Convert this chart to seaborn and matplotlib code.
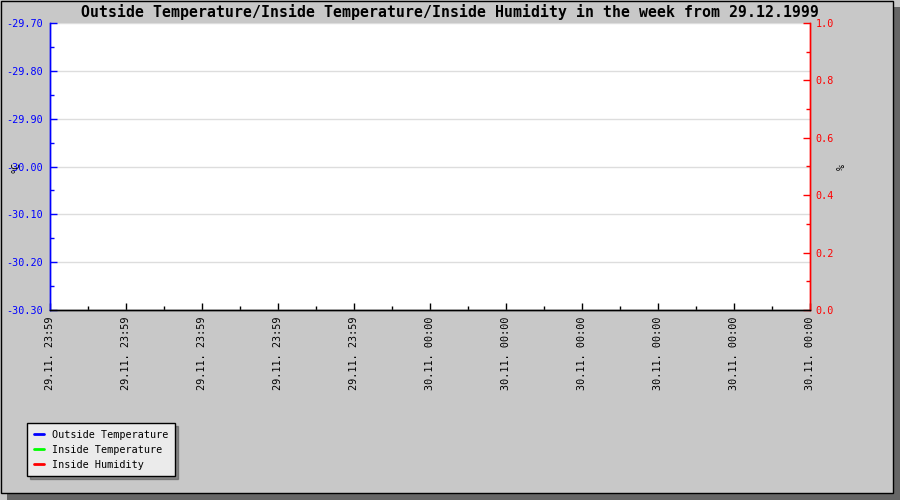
import matplotlib
matplotlib.use("Agg")
import matplotlib.pyplot as plt
import matplotlib.patches as mpatches
import matplotlib.ticker as mticker
import seaborn as sns

sns.set_style("white")
plt.rcParams['font.family'] = ['DejaVu Sans Mono', 'DejaVu Sans']
plt.rcParams['axes.unicode_minus'] = False
plt.rcParams['text.color'] = 'black'

# x categories (time stamps shown on the axis)
time_labels = ["29.11. 23:59"] * 5 + ["30.11. 00:00"] * 6
# the week has no readings, so every series is empty
outside_temp = []
inside_temp = []
inside_humidity = []
temp_ticks = [-30.30, -30.20, -30.10, -30.00, -29.90, -29.80, -29.70]
hum_ticks = [0.0, 0.2, 0.4, 0.6, 0.8, 1.0]

fig = plt.figure(figsize=(9, 5), dpi=100, facecolor="#c8c8c8")

# frame and drop shadow, kept behind the axes
fig.patches.append(mpatches.Rectangle((7 / 900, 0), 893 / 900, 7 / 500, transform=fig.transFigure,
                                      facecolor="#666666", edgecolor="none", zorder=-10))
fig.patches.append(mpatches.Rectangle((893 / 900, 0), 7 / 900, 493 / 500, transform=fig.transFigure,
                                      facecolor="#666666", edgecolor="none", zorder=-10))
fig.patches.append(mpatches.Rectangle((0.5 / 900, 7.5 / 500), 892 / 900, 492 / 500, transform=fig.transFigure,
                                      facecolor="#c8c8c8", edgecolor="black", linewidth=1, zorder=-9))

ax = fig.add_axes([50 / 900, 1 - 310 / 500, 760 / 900, 287 / 500])
ax.set_facecolor("white")

ax.plot(range(len(outside_temp)), outside_temp, color="blue", label="Outside Temperature")
ax.plot(range(len(inside_temp)), inside_temp, color="#00ff00", label="Inside Temperature")
ax2 = ax.twinx()
ax2.plot(range(len(inside_humidity)), inside_humidity, color="red", label="Inside Humidity")

ax.set_xlim(0, len(time_labels) - 1)
ax.set_xticks(range(len(time_labels)))
ax.set_xticklabels(time_labels, rotation=90, fontsize=7.3, va="top", color="black")
ax.xaxis.set_minor_locator(mticker.MultipleLocator(0.5))

ax.set_ylim(temp_ticks[0], temp_ticks[-1])
ax.set_yticks(temp_ticks)
ax.set_yticklabels(["%.2f" % t for t in temp_ticks], color="blue", fontsize=7.3)
ax.yaxis.set_minor_locator(mticker.MultipleLocator(0.05))
ax.grid(axis="y", color="#dddddd", linewidth=1)
ax.set_axisbelow(True)

ax2.set_ylim(0, 1)
ax2.set_yticks(hum_ticks)
ax2.set_yticklabels(["%.1f" % t for t in hum_ticks], color="red", fontsize=7.3)
ax2.yaxis.set_minor_locator(mticker.MultipleLocator(0.1))

ax.tick_params(axis="x", which="both", bottom=True, top=False)
ax.tick_params(axis="x", which="major", direction="in", length=5, width=1, pad=5, color="black")
ax.tick_params(axis="x", which="minor", direction="in", length=3, width=1, color="black")
ax.tick_params(axis="y", which="both", left=True, right=False)
ax.tick_params(axis="y", which="major", direction="in", length=5, width=1, pad=5, color="blue")
ax.tick_params(axis="y", which="minor", direction="in", length=3, width=1, color="blue")
ax2.tick_params(axis="y", which="both", right=True, left=False)
ax2.tick_params(axis="y", which="major", direction="in", length=5, width=1, pad=4, color="red")
ax2.tick_params(axis="y", which="minor", direction="in", length=3, width=1, color="red")

for a in (ax, ax2):
    a.spines["top"].set_visible(False)
    a.spines["bottom"].set_color("black")
    a.spines["left"].set_color("blue")
    a.spines["right"].set_color("red")
    for s in a.spines.values():
        s.set_linewidth(1)

fig.text(15 / 900, 1 - 167 / 500, "°C", rotation=90, ha="center", va="center", fontsize=7.3)
fig.text(842 / 900, 1 - 167 / 500, "%", rotation=90, ha="center", va="center", fontsize=7.3)

fig.text(450 / 900, 1 - 12 / 500,
         "Outside Temperature/Inside Temperature/Inside Humidity in the week from 29.12.1999",
         ha="center", va="center", fontsize=10.7, fontweight="bold")

h1, l1 = ax.get_legend_handles_labels()
h2, l2 = ax2.get_legend_handles_labels()
leg = fig.legend(h1 + h2, l1 + l2, loc="upper left", bbox_to_anchor=(27 / 900, 1 - 423 / 500),
                 fontsize=7.3, frameon=True, fancybox=False, shadow=True, handlelength=1.0,
                 handletextpad=0.85, borderpad=0.65, labelspacing=0.5, borderaxespad=0)
leg.get_frame().set_facecolor("#ebebeb")
leg.get_frame().set_edgecolor("black")
leg.get_frame().set_alpha(1)
for line in leg.get_lines():
    line.set_linewidth(2)

fig.savefig("out.png", dpi=100, facecolor=fig.get_facecolor())
